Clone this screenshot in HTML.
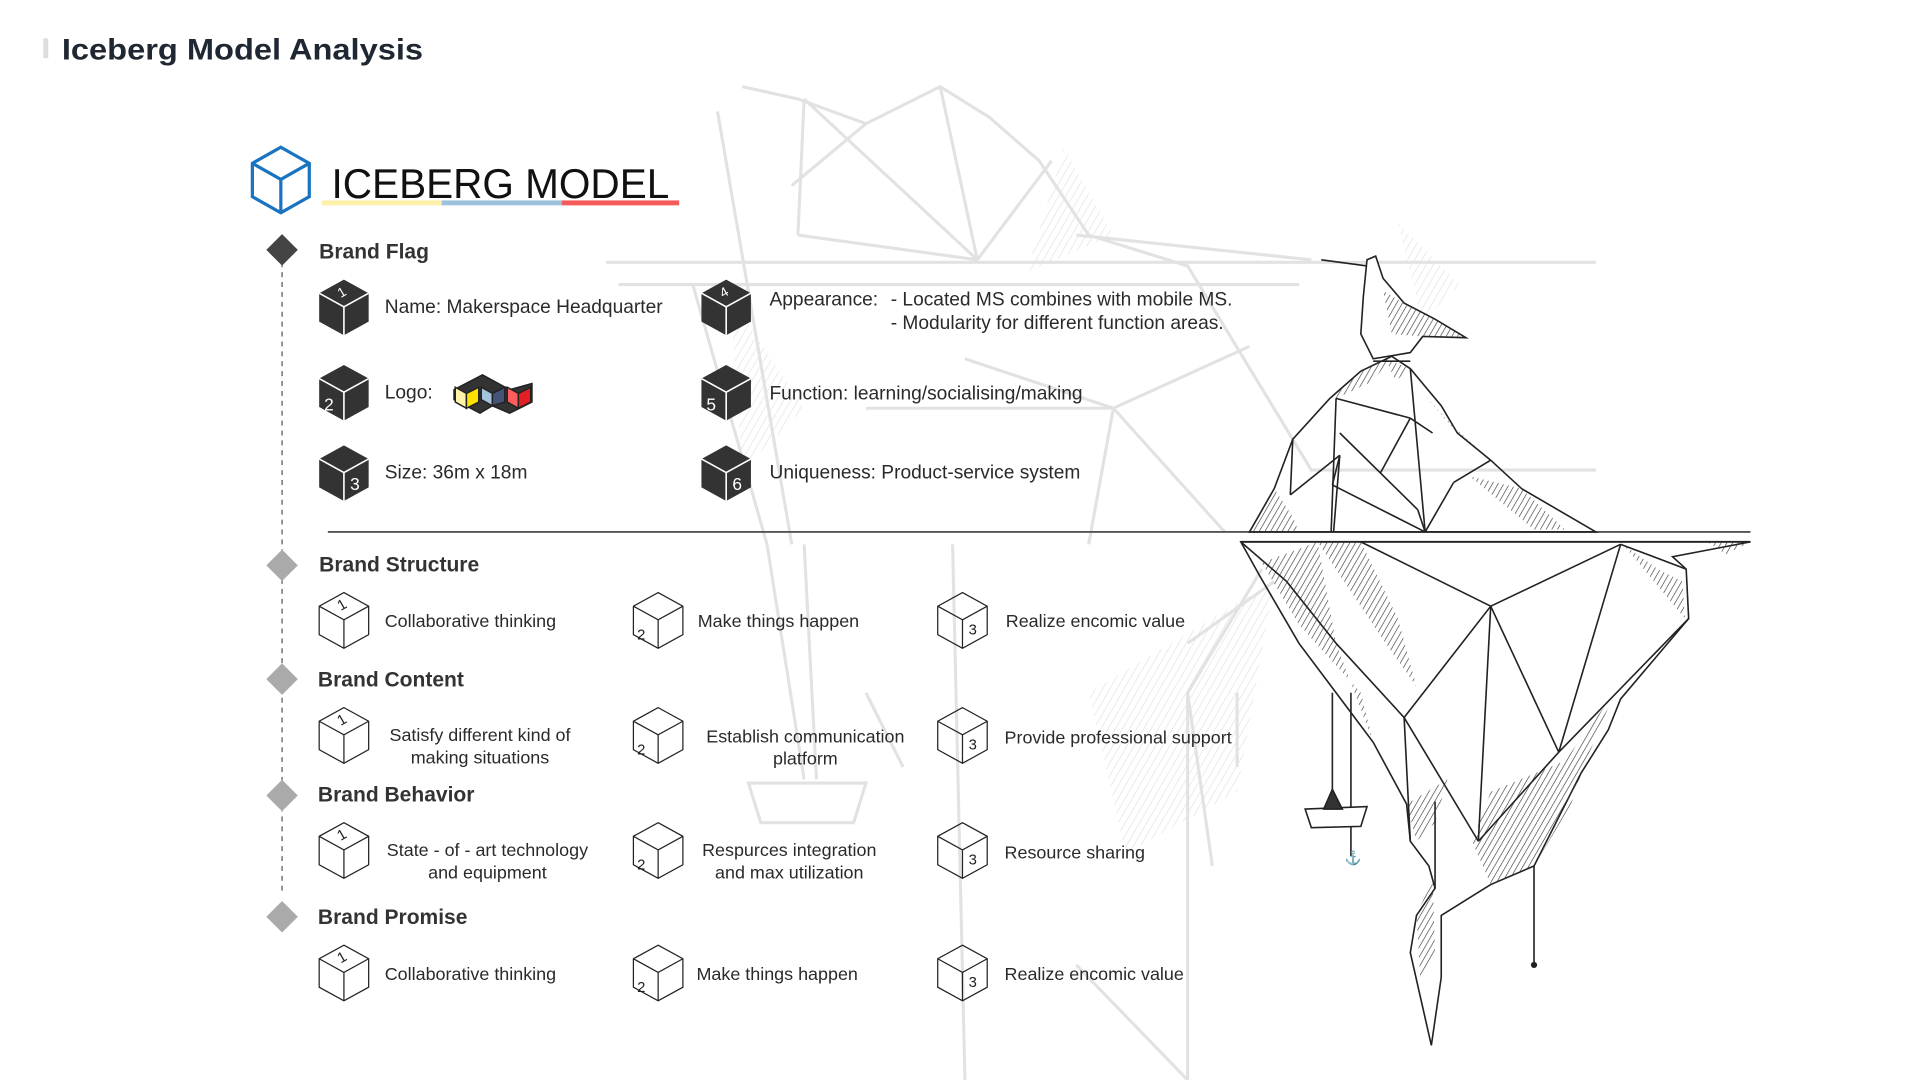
<!DOCTYPE html>
<html><head><meta charset="utf-8"><style>
html,body{margin:0;padding:0;background:#fff;width:1920px;height:1080px;overflow:hidden}
svg{display:block}
text{font-family:"Liberation Sans",sans-serif}
.t{font-size:15.5px;fill:#2a2a2a;font-weight:300}
.h{font-size:17px;fill:#333;font-weight:bold}
.bg{stroke:#e2e2e2;stroke-width:2.5;fill:none}
.ib{stroke:#222;stroke-width:1.3;fill:none}
.hat{stroke:#444;stroke-width:0.8}
</style></head><body>
<svg width="1920" height="1080" viewBox="0 0 1552 873" preserveAspectRatio="none" xmlns="http://www.w3.org/2000/svg">
<defs>
<g id="dc"><polygon points="20,0 40,11 40,34 20,45 0,34 0,11" fill="#333"/><polyline points="0,11 20,22 40,11" stroke="#fff" stroke-width="1.3" fill="none"/><line x1="20" y1="22" x2="20" y2="45" stroke="#fff" stroke-width="1.3"/></g>
<g id="oc"><polygon points="20,0 40,11 40,34 20,45 0,34 0,11" fill="none" stroke="#222" stroke-width="1"/><polyline points="0,11 20,22 40,11" stroke="#222" stroke-width="1" fill="none"/><line x1="20" y1="22" x2="20" y2="45" stroke="#222" stroke-width="1"/></g>
<pattern id="hp" width="4" height="4" patternUnits="userSpaceOnUse" patternTransform="rotate(30)"><line x1="0" y1="0" x2="0" y2="4" stroke="#333" stroke-width="1"/></pattern>
<pattern id="hg" width="5" height="5" patternUnits="userSpaceOnUse" patternTransform="rotate(30)"><line x1="0" y1="0" x2="0" y2="5" stroke="#e4e4e4" stroke-width="1.2"/></pattern>
</defs>

<g class="bg">
<polyline points="600,70 645,80 700,100 760,70 800,95 840,130 880,190 960,215 1060,380 1290,380"/>
<polyline points="490,212 1060,212 1290,212"/>
<polyline points="500,230 1050,230"/>
<line x1="580" y1="90" x2="640" y2="440"/><line x1="650" y1="80" x2="790" y2="210"/>
<line x1="650" y1="80" x2="645" y2="190"/><line x1="645" y1="190" x2="790" y2="210"/>
<line x1="760" y1="70" x2="790" y2="210"/><line x1="790" y1="210" x2="850" y2="130"/>
<line x1="700" y1="100" x2="640" y2="150"/>
<line x1="870" y1="190" x2="1060" y2="210"/>
<line x1="560" y1="230" x2="620" y2="440"/><line x1="620" y1="440" x2="650" y2="630"/>
<line x1="900" y1="330" x2="1010" y2="280"/><line x1="900" y1="330" x2="780" y2="290"/>
<line x1="900" y1="330" x2="880" y2="440"/><line x1="900" y1="330" x2="990" y2="430"/>
<line x1="700" y1="330" x2="900" y2="330"/>
<line x1="770" y1="440" x2="780" y2="873"/><line x1="650" y1="440" x2="660" y2="630"/>
<line x1="1020" y1="460" x2="960" y2="560"/><line x1="960" y1="560" x2="980" y2="700"/>
<line x1="700" y1="560" x2="730" y2="620"/><line x1="870" y1="780" x2="960" y2="873"/>
<line x1="960" y1="560" x2="960" y2="873"/><line x1="1000" y1="560" x2="1000" y2="620"/>
<polygon points="605,633 700,633 690,665 615,665"/>
<line x1="960" y1="520" x2="1030" y2="470"/>
</g>
<polygon points="860,120 900,190 830,220" fill="url(#hg)"/>
<polygon points="590,240 650,330 600,380" fill="url(#hg)"/>
<polygon points="880,560 1030,470 1000,640 910,690" fill="url(#hg)"/>
<polygon points="1130,180 1180,230 1150,260" fill="url(#hg)"/>

<rect x="35" y="31" width="4" height="16" fill="#ddd"/>
<text x="50" y="48" textLength="292" lengthAdjust="spacingAndGlyphs" style="font-size:24px;font-weight:bold;fill:#1f2733">Iceberg Model Analysis</text>

<g fill="none" stroke="#1a73c0" stroke-width="2.6">
<polygon points="227,119 250,132 250,159 227,172 204,159 204,132"/>
<polyline points="204,132 227,145 250,132"/><line x1="227" y1="145" x2="227" y2="172"/>
</g>
<text x="268" y="160" textLength="273" lengthAdjust="spacingAndGlyphs" style="font-size:34px;fill:#111;font-weight:300">ICEBERG MODEL</text>
<rect x="260" y="162" width="97" height="4" fill="#fdf0a8"/>
<rect x="357" y="162" width="97" height="4" fill="#9fc2dc"/>
<rect x="454" y="162" width="95" height="4" fill="#f45a5a"/>

<line x1="228" y1="212" x2="228" y2="722" stroke="#555" stroke-width="1" stroke-dasharray="4,4"/>
<rect x="219" y="193" width="18" height="18" fill="#444" transform="rotate(45 228 202)"/>
<rect x="219" y="448" width="18" height="18" fill="#aaa" transform="rotate(45 228 457)"/>
<rect x="219" y="540" width="18" height="18" fill="#aaa" transform="rotate(45 228 549)"/>
<rect x="219" y="634" width="18" height="18" fill="#aaa" transform="rotate(45 228 643)"/>
<rect x="219" y="732" width="18" height="18" fill="#aaa" transform="rotate(45 228 741)"/>

<text class="h" x="258" y="209">Brand Flag</text>
<text class="h" x="258" y="462">Brand Structure</text>
<text class="h" x="257" y="555">Brand Content</text>
<text class="h" x="257" y="648">Brand Behavior</text>
<text class="h" x="257" y="747">Brand Promise</text>

<use href="#dc" x="258" y="226"/><text x="273" y="240" fill="#fff" font-size="11" transform="rotate(-30 276 236)">1</text>
<use href="#dc" x="258" y="295"/><text x="262" y="332" fill="#fff" font-size="14">2</text>
<use href="#dc" x="258" y="360"/><text x="283" y="396" fill="#fff" font-size="14">3</text>
<use href="#dc" x="567" y="226"/><text x="582" y="240" fill="#fff" font-size="11" transform="rotate(-30 585 236)">4</text>
<use href="#dc" x="567" y="295"/><text x="571" y="332" fill="#fff" font-size="14">5</text>
<use href="#dc" x="567" y="360"/><text x="592" y="396" fill="#fff" font-size="14">6</text>

<text class="t" x="311" y="253">Name: Makerspace Headquarter</text>
<text class="t" x="311" y="322">Logo:</text>
<text class="t" x="311" y="387">Size: 36m x 18m</text>
<text class="t" x="622" y="247">Appearance:</text>
<text class="t" x="720" y="247">- Located MS combines with mobile MS.</text>
<text class="t" x="720" y="266">- Modularity for different function areas.</text>
<text class="t" x="622" y="323">Function: learning/socialising/making</text>
<text class="t" x="622" y="387">Uniqueness: Product-service system</text>

<g stroke="#222" stroke-width="1.2">
<polygon points="367,315 390,303 412,315 430,310 430,325 412,334 398,328 388,334 367,323" fill="#333"/>
<polygon points="368,313 377,318 377,330 368,325" fill="#fff3a8"/>
<polygon points="377,318 387,313 387,325 377,330" fill="#ffe000"/>
<polygon points="389,313 398,318 398,328 389,323" fill="#a3c4dc"/>
<polygon points="398,318 408,313 408,325 398,328" fill="#465278"/>
<polygon points="410,313 419,318 419,330 410,325" fill="#ff5c5c"/>
<polygon points="419,318 429,313 429,325 419,330" fill="#e31e24"/>
</g>

<line x1="265" y1="430" x2="1415" y2="430" stroke="#555" stroke-width="1.5"/>
<line x1="1003" y1="438" x2="1415" y2="438" stroke="#333" stroke-width="1.5"/>

<g>
<use href="#oc" x="258" y="479"/><use href="#oc" x="512" y="479"/><use href="#oc" x="758" y="479"/>
<use href="#oc" x="258" y="572"/><use href="#oc" x="512" y="572"/><use href="#oc" x="758" y="572"/>
<use href="#oc" x="258" y="665"/><use href="#oc" x="512" y="665"/><use href="#oc" x="758" y="665"/>
<use href="#oc" x="258" y="764"/><use href="#oc" x="512" y="764"/><use href="#oc" x="758" y="764"/>
</g>
<g font-size="12" fill="#222">
<text x="273" y="493" transform="rotate(-30 276 489)">1</text><text x="515" y="517">2</text><text x="783" y="513">3</text>
<text x="273" y="586" transform="rotate(-30 276 582)">1</text><text x="515" y="610">2</text><text x="783" y="606">3</text>
<text x="273" y="679" transform="rotate(-30 276 675)">1</text><text x="515" y="703">2</text><text x="783" y="699">3</text>
<text x="273" y="778" transform="rotate(-30 276 774)">1</text><text x="515" y="802">2</text><text x="783" y="798">3</text>
</g>
<g class="t" style="font-size:14.5px">
<text x="311" y="507">Collaborative thinking</text>
<text x="564" y="507">Make things happen</text>
<text x="813" y="507">Realize encomic value</text>
<text x="388" y="599" text-anchor="middle">Satisfy different kind of</text>
<text x="388" y="617" text-anchor="middle">making situations</text>
<text x="651" y="600" text-anchor="middle">Establish communication</text>
<text x="651" y="618" text-anchor="middle">platform</text>
<text x="812" y="601">Provide professional support</text>
<text x="394" y="692" text-anchor="middle">State - of - art technology</text>
<text x="394" y="710" text-anchor="middle">and equipment</text>
<text x="638" y="692" text-anchor="middle">Respurces integration</text>
<text x="638" y="710" text-anchor="middle">and max utilization</text>
<text x="812" y="694">Resource sharing</text>
<text x="311" y="792">Collaborative thinking</text>
<text x="563" y="792">Make things happen</text>
<text x="812" y="792">Realize encomic value</text>
</g>

<polygon points="1010,430 1030,395 1045,355 1075,322 1100,300 1125,288 1140,298 1165,328 1178,350 1205,372 1230,395 1290,430" fill="#fff" class="ib"/>
<polygon points="1010,430 1030,395 1045,418 1050,430" fill="url(#hp)"/>
<polygon points="1075,322 1100,300 1125,288 1110,308 1080,322" fill="url(#hp)"/>
<polygon points="1150,318 1178,350 1205,372 1175,345" fill="url(#hp)"/>
<polygon points="1188,385 1230,395 1265,428 1240,428" fill="url(#hp)"/>
<polygon points="1120,290 1140,298 1128,308" fill="url(#hp)"/>
<g class="ib" stroke-width="1">
<line x1="1045" y1="355" x2="1043" y2="400"/><line x1="1043" y1="400" x2="1083" y2="368"/>
<line x1="1083" y1="368" x2="1078" y2="430"/><line x1="1083" y1="368" x2="1077" y2="392"/>
<line x1="1077" y1="392" x2="1152" y2="430"/>
<line x1="1080" y1="322" x2="1076" y2="430"/>
<line x1="1080" y1="322" x2="1140" y2="338"/><line x1="1140" y1="338" x2="1158" y2="350"/>
<line x1="1083" y1="350" x2="1146" y2="412"/><line x1="1146" y1="412" x2="1152" y2="430"/>
<line x1="1140" y1="298" x2="1152" y2="430"/><line x1="1140" y1="338" x2="1116" y2="382"/>
<line x1="1152" y1="430" x2="1175" y2="390"/><line x1="1175" y1="390" x2="1205" y2="372"/>
</g>

<polygon points="1003,438 1018,465 1050,520 1080,560 1110,600 1137,650 1140,680 1155,700 1160,718 1145,740 1140,770 1157,845 1165,790 1165,740 1205,715 1240,700 1278,625 1300,590 1310,565 1365,500 1363,460 1352,450 1415,438" fill="#fff" class="ib"/>
<polygon points="1020,455 1065,438 1080,520 1110,600 1100,560 1050,505" fill="url(#hp)"/>
<polygon points="1065,438 1100,438 1130,500 1145,555 1120,520" fill="url(#hp)"/>
<polygon points="1137,650 1170,630 1160,665 1145,680" fill="url(#hp)"/>
<polygon points="1205,640 1265,615 1305,560 1280,620 1270,650 1240,700 1205,715 1190,680" fill="url(#hp)"/>
<polygon points="1312,440 1340,460 1360,470 1362,500" fill="url(#hp)"/>
<polygon points="1145,740 1158,710 1160,770 1148,790" fill="url(#hp)"/>
<polygon points="1380,438 1415,438 1395,448" fill="url(#hp)"/>
<g class="ib" stroke-width="1">
<polyline points="1003,438 1040,470 1080,520 1135,580 1140,680"/>
<line x1="1100" y1="438" x2="1205" y2="490"/><line x1="1205" y1="490" x2="1310" y2="440"/>
<line x1="1205" y1="490" x2="1135" y2="580"/><line x1="1205" y1="490" x2="1195" y2="680"/>
<line x1="1205" y1="490" x2="1260" y2="608"/><line x1="1260" y1="608" x2="1310" y2="440"/>
<line x1="1135" y1="580" x2="1195" y2="680"/><line x1="1195" y1="680" x2="1260" y2="608"/>
<line x1="1260" y1="608" x2="1365" y2="500"/><line x1="1160" y1="648" x2="1160" y2="718"/>
<line x1="1310" y1="440" x2="1363" y2="460"/>
</g>
<g class="ib" stroke-width="1">
<line x1="1077" y1="560" x2="1077" y2="648"/><line x1="1092" y1="560" x2="1092" y2="692"/>
<polygon points="1055,654 1105,652 1100,668 1060,669" fill="#fff"/>
<polygon points="1070,654 1077,638 1085,654" fill="#333"/>
<line x1="1240" y1="700" x2="1240" y2="780"/>
</g>
<circle cx="1240" cy="780" r="2.5" fill="#222"/>
<text x="1087" y="697" font-size="11" fill="#222">⚓</text>
<g class="ib" stroke-width="1">
<line x1="1068" y1="210" x2="1105" y2="215"/>
<polygon points="1105,210 1112,207 1118,225 1135,245 1160,258 1185,273 1150,272 1140,285 1110,290 1100,270 1102,240" fill="#fff"/>
<line x1="1110" y1="292" x2="1140" y2="292"/>
</g>
<polygon points="1118,235 1135,245 1160,258 1185,273 1150,272 1125,270" fill="url(#hp)"/>
</svg>
</body></html>
